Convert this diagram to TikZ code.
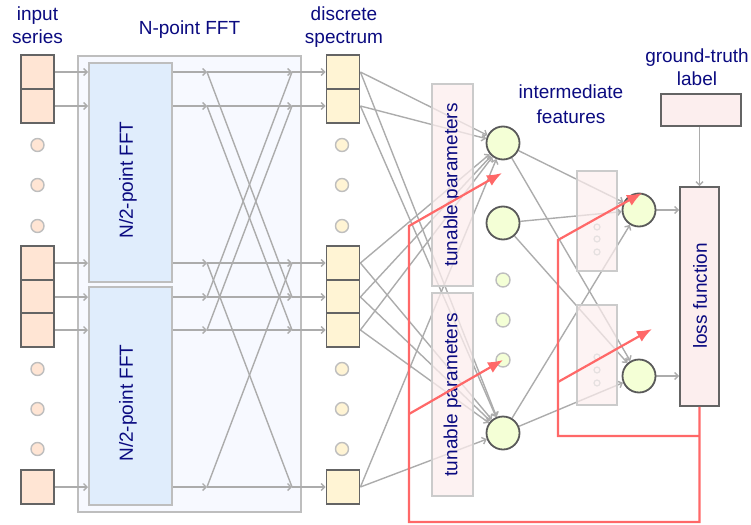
\documentclass[tikz,border=0pt]{standalone}
\usepackage{fontspec}
\setmainfont{Liberation Sans}
\usetikzlibrary{arrows.meta,calc}
\definecolor{navy}{RGB}{10,10,128}
\definecolor{lgray}{RGB}{172,172,172}
\definecolor{bgray}{RGB}{190,190,190}
\definecolor{dgray}{RGB}{100,100,100}
\definecolor{peach}{RGB}{255,229,212}
\definecolor{cream}{RGB}{255,244,212}
\definecolor{lime}{RGB}{244,255,214}
\definecolor{pinkf}{RGB}{252,238,238}
\definecolor{fftbg}{RGB}{247,249,255}
\definecolor{halfbg}{RGB}{224,237,252}
\definecolor{redl}{RGB}{255,104,104}
\pgfdeclarelayer{back}\pgfdeclarelayer{lines}\pgfdeclarelayer{front}
\pgfsetlayers{back,lines,main,front}
\tikzset{
  lbl/.style={text=navy, font=\fontsize{19}{23}\selectfont, inner sep=0pt},
  inbox/.style={draw=dgray, line width=1.8pt, fill=peach, minimum width=33pt, minimum height=34pt, inner sep=0pt},
  specbox/.style={inbox, fill=cream},
  indot/.style={circle, draw=bgray, line width=1.4pt, fill=peach, minimum size=13pt, inner sep=0pt},
  specdot/.style={indot, fill=cream},
  fftbox/.style={draw=bgray, line width=2.4pt, fill=fftbg, inner sep=0pt},
  halfbox/.style={draw=bgray, line width=2pt, fill=halfbg, inner sep=0pt},
  gl/.style={draw=lgray, line width=1.4pt},
  ga/.style={gl, -{Straight Barb[length=3.5pt,width=7pt]}},
  tunbox/.style={draw=bgray!80, line width=1.6pt, fill=pinkf, fill opacity=0.75, text opacity=1, rotate=90, minimum height=41pt, inner sep=0pt, text=navy, font=\fontsize{19}{23}\selectfont},
  midbox/.style={draw=bgray!80, line width=1.6pt, fill=pinkf, fill opacity=0.7, minimum width=40pt, minimum height=100pt, inner sep=0pt},
  middot/.style={circle, draw=pinkf!60!gray!50, line width=1.2pt, minimum size=6pt, inner sep=0pt},
  feat/.style={circle, draw=dgray!90!black, line width=1.8pt, fill=lime, minimum size=33pt, inner sep=0pt},
  fdot/.style={circle, draw=bgray, line width=1.4pt, fill=lime, minimum size=14pt, inner sep=0pt},
  pinkbox/.style={draw=dgray, line width=1.8pt, fill=pinkf, inner sep=0pt},
  rl/.style={draw=redl, line width=2.2pt},
  ra/.style={rl, -{Latex[length=15pt,width=12pt]}}
}
\begin{document}
\begin{tikzpicture}[x=1pt,y=-1pt]
\useasboundingbox (0,0) rectangle (751,524);

% FFT blocks
\begin{pgfonlayer}{back}
\node[fftbox, minimum width=223pt, minimum height=456pt] (F) at (189.5,284) {};
\node[halfbox, minimum width=83pt, minimum height=219pt] (A) at (130.5,172.5) {};
\node[halfbox, minimum width=83pt, minimum height=218pt] (B) at (130.5,396) {};
\end{pgfonlayer}
\node[lbl, rotate=90] (Atxt) at (128,180) {N/2-point FFT};
\node[lbl, rotate=90] (Btxt) at (128,403) {N/2-point FFT};

% input and spectrum boxes
\foreach \n/\y in {1/72,2/106,3/263,4/297,5/330,6/487}{
  \node[inbox] (i\n) at (37.5,\y) {};
  \node[specbox] (s\n) at (343,\y) {};
  \coordinate (a\n) at (207,\y);
  \coordinate (b\n) at (292,\y);
}
\foreach \n/\y in {1/145,2/185,3/226,4/369,5/409,6/449}{
  \node[indot] (id\n) at (37.5,\y) {};
  \node[specdot] (sd\n) at (342,\y) {};
}

% butterfly lines
\begin{pgfonlayer}{lines}
\foreach \n in {1,2,3}{
  \draw[ga] (i\n.east) -- (i\n.east -| A.west);
  \draw[ga] (i\n.east -| A.east) -- (a\n);
}
\foreach \n in {4,5,6}{
  \draw[ga] (i\n.east) -- (i\n.east -| B.west);
  \draw[ga] (i\n.east -| B.east) -- (a\n);
}
\foreach \n in {1,...,6}{
  \draw[ga] (a\n) -- (b\n);
  \draw[ga] (b\n) -- (s\n.west);
}
\foreach \p/\q in {1/4,4/1,2/5,5/2,3/6,6/3}{
  \draw[gl] (a\p) -- (b\q);
}
\end{pgfonlayer}

% layer 1
\node[feat] (f1) at (503,143) {};
\node[feat] (f2) at (503,223) {};
\node[feat] (f3) at (503,433) {};
\node[fdot] (d1) at (503,280) {};
\node[fdot] (d2) at (503,320) {};
\node[fdot] (d3) at (503,360) {};
\node[tunbox, minimum width=202pt] (T1) at (452.5,185) {tunable parameters};
\node[tunbox, minimum width=203pt] (T2) at (452.5,394.5) {tunable parameters};

% layer 2
\node[midbox] (M1) at (597,221) {};
\node[midbox] (M2) at (597,355) {};
\foreach \n/\y in {1/227,2/239,3/252,4/357,5/370,6/383}{
  \node[middot] (md\n) at (597,\y) {};
}
\node[feat] (o1) at (639,210) {};
\node[feat] (o2) at (639,376) {};

% loss and ground truth
\node[pinkbox, minimum width=39pt, minimum height=219pt] (L) at (699.5,296.5) {};
\node[lbl, rotate=90] (Ltxt) at (700,296) {loss function};
\node[pinkbox, minimum width=80pt, minimum height=32pt] (G) at (701,110) {};

\begin{pgfonlayer}{lines}
\foreach \n in {1,...,6}{
  \draw[ga] (s\n.east) -- (f1);
  \draw[ga] (s\n.east) -- (f3);
}
\foreach \f in {f1,f2,f3}{
  \draw[ga] (\f) -- (o1);
  \draw[ga] (\f) -- (o2);
}
\draw[ga] (o1) -- (o1 -| L.west);
\draw[ga] (o2) -- (o2 -| L.west);
\draw[ga] (G.south -| L.north) -- (L.north);
\end{pgfonlayer}

% back-propagation paths
\coordinate (r1) at (699.5,522);
\coordinate (r2) at (409,522);
\coordinate (r3) at (409,226);
\coordinate (t1) at (502,173);
\coordinate (r4) at (409,414);
\coordinate (t2) at (503,360);
\coordinate (r5) at (699.5,436);
\coordinate (r6) at (558,436);
\coordinate (r7) at (558,240);
\coordinate (t3) at (642,193);
\coordinate (r8) at (558,382);
\coordinate (t4) at (652,329);
\begin{pgfonlayer}{front}
\draw[ra] (L.south) -- (r1) -- (r2) -- (r3) -- (t1);
\draw[ra] (r4) -- (t2);
\draw[ra] (r5) -- (r6) -- (r7) -- (t3);
\draw[ra] (r8) -- (t4);
\end{pgfonlayer}

% labels
\node[lbl, anchor=base] (l1) at (37.5,21) {input};
\node[lbl, anchor=base] (l2) at (37.5,44) {series};
\node[lbl, anchor=base] (l3) at (189.5,35) {N-point FFT};
\node[lbl, anchor=base] (l4) at (344,21) {discrete};
\node[lbl, anchor=base] (l5) at (344,44) {spectrum};
\node[lbl, anchor=base] (l6) at (571,99) {intermediate};
\node[lbl, anchor=base] (l7) at (571,123) {features};
\node[lbl, anchor=base] (l8) at (697,63) {ground-truth};
\node[lbl, anchor=base] (l9) at (697,85) {label};
\end{tikzpicture}
\end{document}
